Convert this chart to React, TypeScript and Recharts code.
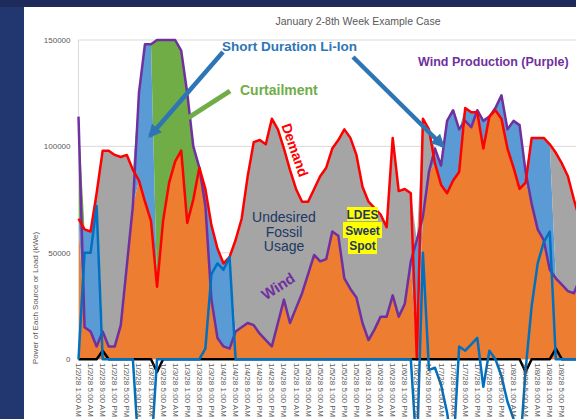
import React from "react";
import {
  Area,
  CartesianGrid,
  ComposedChart,
  Line,
  ReferenceLine,
  XAxis,
  YAxis,
} from "recharts";

// one point every 2 hours, 1/2/28 1:00 AM .. 1/8/28 11:00 PM
const DAYS = ["1/2/28", "1/3/28", "1/4/28", "1/5/28", "1/6/28", "1/7/28", "1/8/28"];
const TIMES = [
  "1:00 AM", "3:00 AM", "5:00 AM", "7:00 AM", "9:00 AM", "11:00 AM",
  "1:00 PM", "3:00 PM", "5:00 PM", "7:00 PM", "9:00 PM", "11:00 PM",
];

const Y_TICKS = [0, 50000, 100000, 150000];

// kWe (12 values per day)
const DEMAND = [
  66000, 61000, 60000, 78000, 98000, 98000, 96000, 95000, 96000, 89000, 84000, 74000,
  65000, 34000, 65000, 83000, 93000, 98000, 64000, 75000, 90000, 80000, 63000, 52000,
  45000, 48000, 56000, 66000, 86000, 102000, 103000, 101000, 113000, 108000, 99000, 89000,
  80000, 74000, 74000, 80000, 86000, 90000, 99000, 103000, 108000, 104000, 96000, 81000,
  74000, 71000, 68000, 62000, 104000, 79000, 80000, 78000, 0, 113000, 108000, 92000,
  82000, 78000, 84000, 88000, 118000, 116000, 116000, 99000, 114000, 117000, 113000, 99000,
  90000, 80000, 83000, 104000, 104000, 104000, 101000, 97000, 92000, 86000, 75000, 65000,
];

const WIND = [
  114000, 15000, 13000, 6000, 13000, 6000, 6000, 16000, 44000, 72000, 125000, 148000,
  148000, 150000, 150000, 150000, 150000, 145000, 125000, 100000, 90000, 72000, 28000, 10000,
  6000, 5000, 13000, 15000, 17000, 16000, 12000, 9000, 6000, 17000, 28000, 17000,
  24000, 31000, 40000, 49000, 46000, 47000, 60000, 58000, 38000, 33000, 29000, 17000,
  9000, 14000, 20000, 20000, 30000, 20000, 26000, 46000, 56000, 67000, 88000, 99000,
  91000, 112000, 117000, 108000, 112000, 109000, 117000, 112000, 114000, 118000, 124000, 108000,
  112000, 110000, 88000, 73000, 61000, 56000, 42000, 38000, 35000, 32000, 31000, 38000,
];

// thickness of the blue Li-Ion band (charge above demand, discharge below it)
const LI_ION = [
  0, 46000, 47000, 72000, 0, 0, 0, 0, 0, 0, 41000, 74000,
  83000, 0, 0, 0, 0, 0, 0, 0, 0, 8000, 35000, 42000,
  39000, 43000, 0, 0, 0, 0, 0, 0, 0, 0, 0, 0,
  0, 0, 0, 0, 0, 0, 0, 0, 0, 0, 0, 0,
  0, 0, 0, 0, 0, 0, 0, 0, 56000, 0, 0, 7000,
  9000, 34000, 33000, 20000, 6000, 7000, 1000, 13000, 0, 1000, 11000, 9000,
  22000, 30000, 5000, 31000, 43000, 48000, 59000, 0, 0, 0, 0, 0,
];

// bright blue line (goes below zero, over the axis labels)
const BATTERY = [
  0, 50000, 50000, 72000, 0, 0, 0, 0, 0, 0, -45000, -45000,
  -45000, 0, 0, 0, 0, 0, 0, 0, 0, 5000, 40000, 45000,
  42000, 48000, 0, 0, 0, 0, 0, 0, 0, 0, 0, 0,
  0, 0, 0, 0, 0, 0, 0, 0, 0, 0, 0, 0,
  0, 0, 0, 0, 0, 0, 0, 0, -45000, 50000, -5000, -4000,
  -12000, -25000, -45000, 6000, 4000, 7000, 10000, -13000, 4000, 0, -8000, -20000,
  -28000, -45000, -5000, 25000, 45000, 55000, 60000, 0, 0, 0, 0, 0,
];

// black line along zero
const OTHER = [
  0, 0, 0, 0, 4000, 0, 0, 0, 0, 0, 0, 0,
  0, -6000, 0, 0, 0, 0, 0, 0, 0, 0, 0, 0,
  0, 0, 0, 0, 0, 0, 0, 0, 0, 0, 0, 0,
  0, 0, 0, 0, 0, 0, 0, 0, 0, 0, 0, 0,
  0, 0, 0, 0, 0, 0, 0, 0, 0, 0, 0, 0,
  0, 0, 0, 0, 0, 0, 0, 0, 0, 0, 0, 0,
  0, 0, -6000, 0, 0, 0, 0, 5000, 0, 0, 0, 0,
];

const CATEGORIES = DAYS.flatMap((d) => TIMES.map((t) => `${d} ${t}`));

// stack: wind to load, li-ion, fossil (demand not met), curtailment (wind over demand)
const rows = CATEGORIES.map((t, i) => {
  const d = DEMAND[i];
  const w = WIND[i];
  const gap = Math.abs(d - w);
  const li = Math.min(LI_ION[i], gap);
  return {
    t,
    windUsed: Math.min(d, w),
    liIon: li,
    fossil: w < d ? gap - li : 0,
    curtailed: w >= d ? gap - li : 0,
    demand: d,
    wind: w,
    battery: BATTERY[i],
    other: OTHER[i],
  };
});

const GRAY_TEXT = "#595959";

function HourTick({ x, payload }: any) {
  // the slide crops the chart on the right; drop the label that would be cut
  if (x > 568) return null;
  return (
    <text
      transform={`translate(${x},363) rotate(90)`}
      fontSize={8}
      fill={GRAY_TEXT}
      dominantBaseline="central"
    >
      {payload.value}
    </text>
  );
}

function Notes() {
  return (
    <svg width={576} height={419} style={{ position: "absolute", left: 0, top: 0 }}>
      <defs>
        <marker
          id="headBlue"
          viewBox="0 0 10 10"
          refX="8"
          refY="5"
          markerWidth="3"
          markerHeight="3"
          orient="auto"
        >
          <path d="M0,0 L10,5 L0,10 z" fill="#2E75B6" />
        </marker>
      </defs>
      <text x={358} y={25} textAnchor="middle" fontSize={10.5} fill={GRAY_TEXT}>
        January 2-8th Week Example Case
      </text>
      <text
        transform="translate(35,298) rotate(-90)"
        textAnchor="middle"
        dominantBaseline="central"
        fontSize={8}
        fill={GRAY_TEXT}
      >
        Power of Each Source or Load (kWe)
      </text>

      <line x1={223} y1={52} x2={150} y2={136} stroke="#2E75B6" strokeWidth={4.5} markerEnd="url(#headBlue)" />
      <line x1={353} y1={57} x2={443} y2={146} stroke="#2E75B6" strokeWidth={4.5} markerEnd="url(#headBlue)" />
      <line x1={230} y1={91} x2={188} y2={118} stroke="#70AD47" strokeWidth={5} />

      <text x={222} y={50.5} fontSize={13.5} fontWeight="bold" fill="#2E75B6">
        Short Duration Li-Ion
      </text>
      <text x={240} y={95} fontSize={14} fontWeight="bold" fill="#70AD47">
        Curtailment
      </text>
      <text x={418} y={66} fontSize={12.5} fontWeight="bold" fill="#7030A0">
        Wind Production (Purple)
      </text>
      <text
        transform="translate(295,150) rotate(71)"
        textAnchor="middle"
        dominantBaseline="central"
        fontSize={14}
        fontWeight="bold"
        fill="#FF0000"
      >
        Demand
      </text>
      <text textAnchor="middle" fontSize={14} fill="#203864">
        <tspan x={284} y={221.5}>Undesired</tspan>
        <tspan x={284} y={236.5}>Fossil</tspan>
        <tspan x={284} y={251}>Usage</tspan>
      </text>

      <rect x={347} y={207} width={31} height={14} fill="#FFFF00" />
      <rect x={343} y={222} width={39} height={16} fill="#FFFF00" />
      <rect x={348} y={238} width={29} height={16} fill="#FFFF00" />
      <text textAnchor="middle" fontSize={12} fontWeight="bold" fill="#1F3864">
        <tspan x={362.5} y={219}>LDES</tspan>
        <tspan x={362.5} y={234.5}>Sweet</tspan>
        <tspan x={362.5} y={249.5}>Spot</tspan>
      </text>
      <text
        transform="translate(278,286) rotate(-33)"
        textAnchor="middle"
        dominantBaseline="central"
        fontSize={15}
        fontWeight="bold"
        fill="#7030A0"
      >
        Wind
      </text>
    </svg>
  );
}

export default function App() {
  return (
    <div
      style={{
        position: "fixed",
        left: 0,
        top: 0,
        width: 576,
        height: 419,
        overflow: "hidden",
        background: "linear-gradient(90deg, #22376f 0%, #27407a 100%)",
        fontFamily: "'Liberation Sans', Arial, sans-serif",
      }}
    >
      <div style={{ position: "absolute", left: 0, top: 0, right: 0, height: 7, background: "#1e2a5a" }} />
      <div style={{ position: "absolute", left: 24, top: 7, right: 0, bottom: 0, background: "#ffffff" }} />
      <div style={{ position: "absolute", left: 0, top: 0 }}>
        <ComposedChart
          width={590}
          height={582}
          data={rows}
          margin={{ top: 40, right: 10, bottom: 0, left: 18.5 }}
        >
          <CartesianGrid vertical={false} stroke="#d9d9d9" />
          <XAxis
            dataKey="t"
            interval={1}
            axisLine={false}
            tickLine={false}
            height={10}
            tick={(p: any) => <HourTick {...p} />}
          />
          <YAxis
            width={60}
            domain={[-100000, 150000]}
            ticks={Y_TICKS}
            axisLine={false}
            tickLine={false}
            tick={{ fontSize: 8, fill: GRAY_TEXT }}
          />
          <ReferenceLine
            segment={[
              { x: CATEGORIES[0], y: 0 },
              { x: CATEGORIES[0], y: 150000 },
            ]}
            stroke="#d9d9d9"
          />
          <Area type="linear" dataKey="windUsed" stackId="mix" stroke="none" fill="#ED7D31" fillOpacity={1} dot={false} activeDot={false} isAnimationActive={false} />
          <Area type="linear" dataKey="liIon" stackId="mix" stroke="none" fill="#5B9BD5" fillOpacity={1} dot={false} activeDot={false} isAnimationActive={false} />
          <Area type="linear" dataKey="fossil" stackId="mix" stroke="none" fill="#A5A5A5" fillOpacity={1} dot={false} activeDot={false} isAnimationActive={false} />
          <Area type="linear" dataKey="curtailed" stackId="mix" stroke="none" fill="#70AD47" fillOpacity={1} dot={false} activeDot={false} isAnimationActive={false} />
          <Line type="linear" dataKey="wind" stroke="#7030A0" strokeWidth={2.5} strokeLinejoin="round" dot={false} activeDot={false} isAnimationActive={false} />
          <Line type="linear" dataKey="demand" stroke="#FF0000" strokeWidth={2.5} strokeLinejoin="round" dot={false} activeDot={false} isAnimationActive={false} />
          <Line type="linear" dataKey="other" stroke="#000000" strokeWidth={2.5} strokeLinejoin="round" dot={false} activeDot={false} isAnimationActive={false} />
          <Line type="linear" dataKey="battery" stroke="#0070C0" strokeWidth={2.5} strokeLinejoin="round" dot={false} activeDot={false} isAnimationActive={false} />
        </ComposedChart>
      </div>
      <Notes />
    </div>
  );
}
